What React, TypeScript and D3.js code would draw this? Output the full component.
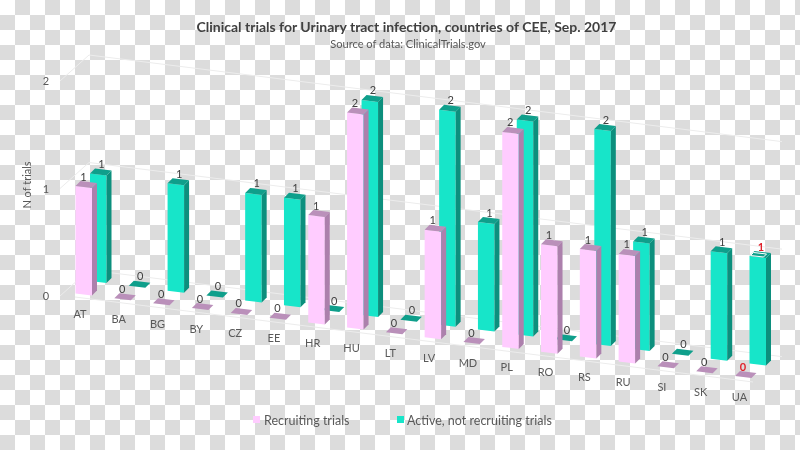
import React from "react";
import * as d3 from "d3";

const categories = ["AT","BA","BG","BY","CZ","EE","HR","HU","LT","LV","MD","PL","RO","RS","RU","SI","SK","UA"];
const recruiting = [1,0,0,0,0,0,1,2,0,1,0,2,1,1,1,0,0,0];
const active = [1,0,1,0,1,1,0,2,0,2,1,2,0,2,1,0,1,1];
const yTicks = [0,1,2];
const titleText = "Clinical trials for Urinary tract infection, countries of CEE, Sep. 2017";
const subtitleText = "Source of data: ClinicalTrials.gov";
const FONT = "Lato, 'Open Sans', sans-serif";
const TEXT = "#595959";

const x = d3.scaleLinear().domain([0, 17]).range([75.5, 735]);
const floor = d3.scaleLinear().domain([0, 17]).range([293.5, 376]);
const h = d3.scaleLinear().domain([0, 2]).range([0, 215]);

const pink = { front: "#FFCCFF", side: "#AC80AC", cap: "#BA90BA" };
const teal = { front: "#17E5C9", side: "#0C8F7D", cap: "#0F9F8B" };

const BW = 16.5, SKEW = 2, CX = 5, CY = 5;
const ROW = { dx: 14.5, dy: -12.5 };

function pts(a: number[][]) { return a.map(p => p.join(",")).join(" "); }

function Bar({ i, v, row, c }: { i: number; v: number; row: number; c: typeof pink }) {
  const x0 = x(i) + row * ROW.dx;
  const b = floor(i) + row * ROW.dy;
  const t = b - h(v);
  const x1 = x0 + BW;
  return (
    <g>
      {v > 0 && <polygon points={pts([[x0, t], [x1, t + SKEW], [x1, b + SKEW], [x0, b]])} fill={c.front} />}
      {v > 0 && <polygon points={pts([[x1, t + SKEW], [x1 + CX, t + SKEW - CY], [x1 + CX, b + SKEW - CY], [x1, b + SKEW]])} fill={c.side} />}
      <polygon points={pts([[x0, t], [x0 + CX, t - CY], [x1 + CX, t + SKEW - CY], [x1, t + SKEW]])} fill={c.cap} />
    </g>
  );
}

function Label({ i, v, row }: { i: number; v: number; row: number }) {
  const x0 = x(i) + row * ROW.dx;
  const t = floor(i) + row * ROW.dy - h(v);
  const red = i === 17;
  return (
    <text x={x0 + (row ? 11.5 : 8)} y={t - 5.5} textAnchor="middle" fontSize={11} fontFamily={FONT}
      fill={red ? "#E0202A" : "#404040"} fontWeight={red ? 700 : 400}>{v}</text>
  );
}

const floorLine = (x0: number) => 0.125 * x0;

export default function App() {
  const wallLevels = yTicks.map(v => h(v));
  const uaTop = floor(17) + ROW.dy - h(1);
  const uaX = x(17) + ROW.dx;
  return (
    <svg width={800} height={450} style={{ position: "fixed", left: 0, top: 0 }}>
      <defs>
        <pattern id="chk" width={30} height={30} patternUnits="userSpaceOnUse">
          <rect width={30} height={30} fill="#fff" />
          <rect x={15} y={0} width={15} height={15} fill="#dcdcdc" />
          <rect x={0} y={15} width={15} height={15} fill="#dcdcdc" />
        </pattern>
      </defs>
      <rect width={800} height={450} fill="url(#chk)" />

      {wallLevels.map((dy, k) => (
        <g key={k} stroke="#ececec" strokeWidth={1} fill="none">
          <line x1={60} y1={296 - dy} x2={89} y2={270 - dy} />
          <line x1={89} y1={270 - dy} x2={782} y2={270 + floorLine(782 - 89) - dy} />
        </g>
      ))}
      <line x1={75} y1={297} x2={753} y2={382} stroke="#ececec" />

      {categories.map((_, i) => <Bar key={i} i={i} v={active[i]} row={1} c={teal} />)}
      {categories.map((_, i) => <Bar key={i} i={i} v={recruiting[i]} row={0} c={pink} />)}

      <polyline points={pts([[uaX + 4, uaTop - 3.5], [uaX + 17, uaTop - 2], [uaX + 14, uaTop + 1], [uaX + 1, uaTop - 0.5], [uaX + 4, uaTop - 3.5]])}
        fill="none" stroke="#fff" strokeWidth={1} />

      {categories.map((_, i) => <Label key={i} i={i} v={active[i]} row={1} />)}
      {categories.map((_, i) => <Label key={i} i={i} v={recruiting[i]} row={0} />)}

      {categories.map((c, i) => (
        <text key={c} x={x(i) + 4.5} y={floor(i) + 24.5} textAnchor="middle" fontSize={11} fontFamily={FONT} fill={TEXT}>{c}</text>
      ))}

      {yTicks.map(v => (
        <text key={v} x={46} y={300 - h(v)} textAnchor="middle" fontSize={11} fontFamily={FONT} fill={TEXT}>{v}</text>
      ))}
      <text transform="translate(31,185) rotate(-90)" textAnchor="middle" fontSize={11} fontFamily={FONT} fill={TEXT}>N of trials</text>

      <text x={406.5} y={32} textAnchor="middle" fontSize={14} fontWeight={700} fontFamily={FONT} fill="#404040">{titleText}</text>
      <text x={408} y={48} textAnchor="middle" fontSize={11.1} fontFamily={FONT} fill={TEXT}>{subtitleText}</text>

      <rect x={253} y={416} width={7} height={7} fill={pink.front} />
      <text x={264} y={425} fontSize={12.5} fontFamily={FONT} fill={TEXT}>Recruiting trials</text>
      <rect x={397} y={416} width={7} height={7} fill={teal.front} />
      <text x={407} y={425} fontSize={12.5} fontFamily={FONT} fill={TEXT}>Active, not recruiting trials</text>
    </svg>
  );
}
